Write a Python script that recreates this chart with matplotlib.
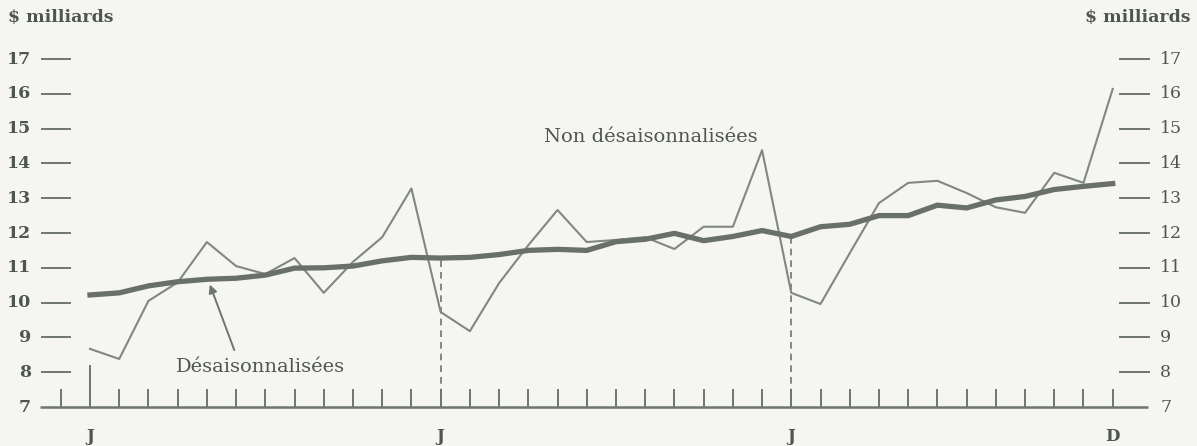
import numpy as np
import matplotlib.pyplot as plt

# monthly values, Jan of year 1 through Dec of year 3 ($ billions)
months = np.arange(36)
non_adjusted = [8.67, 8.38, 10.05, 10.58, 11.74, 11.05, 10.82, 11.28, 10.28, 11.17, 11.88, 13.28,
                9.73, 9.18, 10.56, 11.65, 12.66, 11.74, 11.80, 11.88, 11.54, 12.18, 12.18, 14.38,
                10.28, 9.96, 11.42, 12.86, 13.44, 13.50, 13.15, 12.74, 12.58, 13.73, 13.44, 16.14]
adjusted = [10.22, 10.28, 10.48, 10.60, 10.67, 10.70, 10.79, 10.99, 11.00, 11.05, 11.20, 11.30,
            11.28, 11.30, 11.38, 11.50, 11.53, 11.50, 11.75, 11.82, 11.99, 11.78, 11.90, 12.07,
            11.90, 12.18, 12.25, 12.50, 12.50, 12.80, 12.72, 12.95, 13.05, 13.25, 13.34, 13.42]
y_ticks = [7, 8, 9, 10, 11, 12, 13, 14, 15, 16, 17]
month_labels = {0: 'J', 12: 'J', 24: 'J', 35: 'D'}

bg = '#f5f5f3'
ink = '#6e766e'
txt = '#4f564f'
plt.rcParams['font.family'] = ['DejaVu Serif']

fig = plt.figure(figsize=(11.97, 4.46), dpi=100, facecolor=bg)
ax = fig.add_axes([0, 0, 1, 1])
ax.set_facecolor(bg)
ax.set_xlim(-90 / 29.22, (1197 - 90) / 29.22)
ax.set_ylim(7 - 39 / 34.8, 7 + 407 / 34.8)
ax.axis('off')

# base line and monthly ticks
ax.plot([-1.71, 36.2], [7, 7], color=ink, lw=1.8, solid_capstyle='butt')
for m in range(-1, 36):
    top = 8.18 if m == 0 else 7.49
    ax.plot([m, m], [7, top], color=ink, lw=1.4)
for m in (12, 24):
    ax.plot([m, m], [7, adjusted[m]], color=ink, lw=1.2, ls=(0, (4, 3)))

# y scale dashes on both sides
for v in y_ticks:
    if v > 7:
        ax.plot([-1.64, -0.7], [v, v], color=ink, lw=1.4)
        ax.plot([35.25, 36.25], [v, v], color=ink, lw=1.4)
    ax.text(-2.02, v, str(v), ha='right', va='center', fontsize=12.5, color=txt, fontweight='bold')
    ax.text(36.62, v, str(v), ha='left', va='center', fontsize=12.5, color=txt)

ax.text(-2.8, 18.2, '$ milliards', ha='left', va='center', fontsize=12.5, color=txt, fontweight='bold')
ax.text(37.65, 18.2, '$ milliards', ha='right', va='center', fontsize=12.5, color=txt, fontweight='bold')

for m, lab in month_labels.items():
    ax.text(m, 6.14, lab, ha='center', va='center', fontsize=12, color=txt, fontweight='bold')

# series
ax.plot(months, non_adjusted, color='#80887f', lw=1.5)
ax.plot(months, adjusted, color='#687068', lw=3.8, solid_joinstyle='round')

ax.text(19.2, 14.75, 'Non désaisonnalisées', ha='center', va='center', fontsize=14, color=txt)
ax.annotate('Désaisonnalisées', xy=(4.1, 10.52), xytext=(5.85, 8.15),
            ha='center', va='center', fontsize=14, color=txt,
            arrowprops=dict(arrowstyle='-|>', color=ink, lw=1.4, shrinkA=4, shrinkB=0,
                            relpos=(0.36, 1.0), mutation_scale=12))

fig.savefig('out.png', dpi=100, facecolor=bg)
